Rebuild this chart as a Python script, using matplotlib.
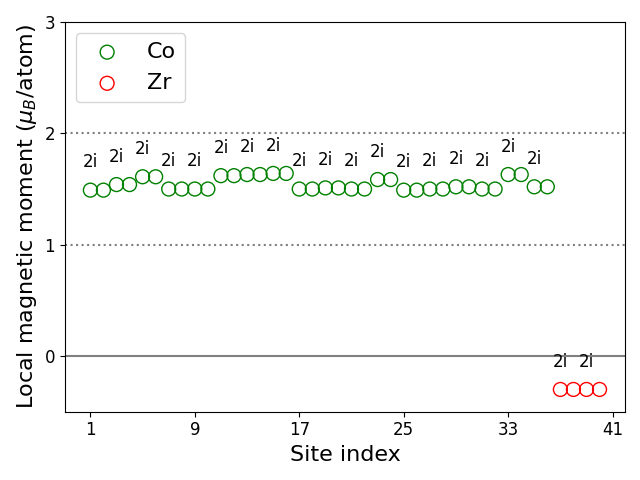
import numpy as np
import matplotlib
matplotlib.use('Agg')
import matplotlib.pyplot as plt

co_sites = np.arange(1, 37)
co_mom = [1.49, 1.49, 1.54, 1.54, 1.61, 1.61, 1.50, 1.50, 1.50, 1.50,
          1.62, 1.62, 1.63, 1.63, 1.64, 1.64, 1.50, 1.50, 1.51, 1.51,
          1.50, 1.50, 1.585, 1.585, 1.49, 1.49, 1.50, 1.50, 1.52, 1.52,
          1.50, 1.50, 1.63, 1.63, 1.52, 1.52]
zr_sites = np.arange(37, 41)
zr_mom = [-0.30, -0.30, -0.30, -0.30]
wyckoff = '2i'

fig, ax = plt.subplots(figsize=(6.4, 4.8), dpi=100)
ax.axhline(0, color='gray', lw=1.5)
ax.axhline(1, color='gray', lw=1.5, ls=':')
ax.axhline(2, color='gray', lw=1.5, ls=':')

ax.scatter(co_sites, co_mom, s=100, facecolors='none', edgecolors='green', label='Co')
ax.scatter(zr_sites, zr_mom, s=100, facecolors='none', edgecolors='red', label='Zr')

sites = list(co_sites) + list(zr_sites)
moms = co_mom + zr_mom
for i in range(0, len(sites), 2):
    ax.text(sites[i], moms[i] + 0.25, wyckoff, ha='center', va='center', fontsize=12)

ax.set_ylim(-0.5, 3)
ax.set_yticks([0, 1, 2, 3])
ax.set_xticks([1, 9, 17, 25, 33, 41])
ax.tick_params(labelsize=12)
ax.set_xlabel('Site index', fontsize=16)
ax.set_ylabel(r'Local magnetic moment ($\mu_B$/atom)', fontsize=16)
ax.legend(fontsize=16, loc='upper left')
plt.tight_layout()
plt.savefig('out.png')
